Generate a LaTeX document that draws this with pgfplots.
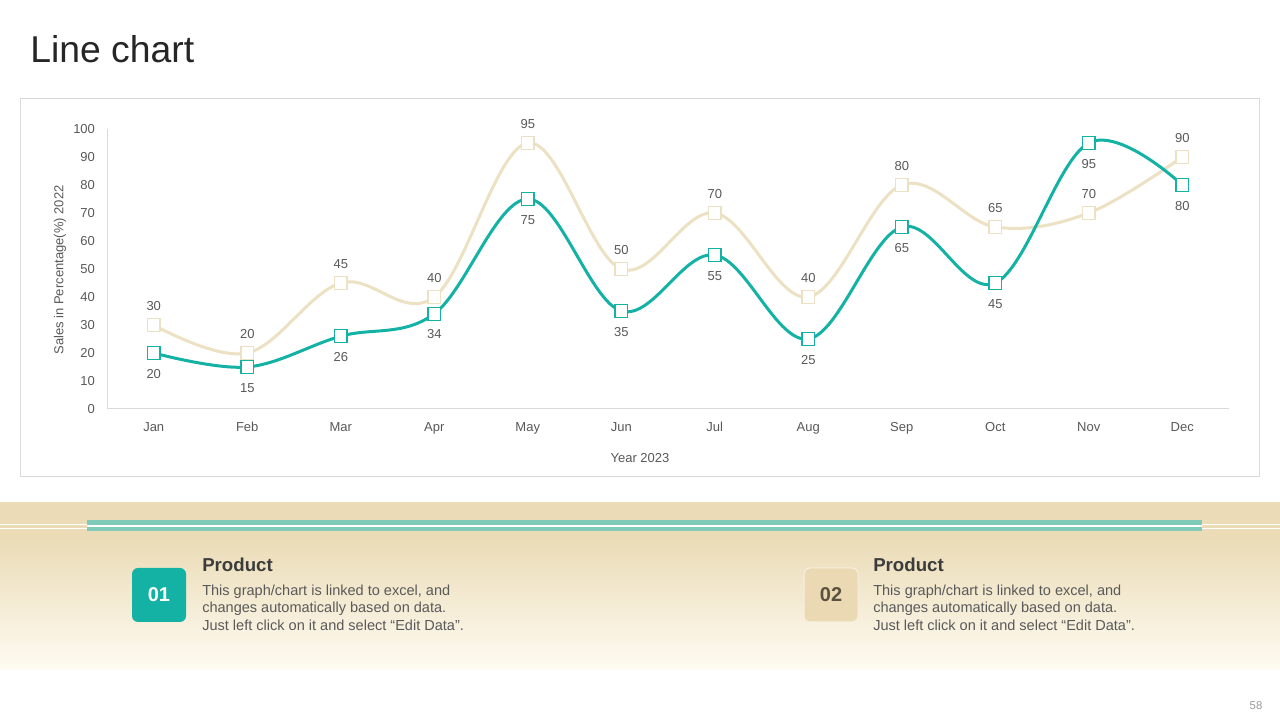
\documentclass[border=0pt]{standalone}
\usepackage{pgfplots}
\pgfplotsset{compat=1.18}
\usepackage{fontspec}
\setmainfont{Liberation Sans}
\definecolor{teal1}{HTML}{14B1A5}
\definecolor{beige1}{HTML}{EDE1C3}
\definecolor{bandtop}{HTML}{EBDCB7}
\definecolor{bandbot}{HTML}{FEFBF2}
\definecolor{stripe}{HTML}{7FCAB8}
\definecolor{txt}{HTML}{595959}
\definecolor{framec}{HTML}{D9D9D9}
\definecolor{box2}{HTML}{EAD9B2}
\definecolor{box2txt}{HTML}{5B5141}
\definecolor{head}{HTML}{3B3B3B}
\begin{document}
\begin{tikzpicture}[x=0.75pt,y=0.75pt]
\fill[white] (0,0) rectangle (1280,720);
\begin{scope}
\clip (0,0) rectangle (1280,720);
% bottom band
\shade[top color=bandtop, bottom color=bandbot] (-5,720-670) rectangle (1285,720-539);
\fill[bandtop] (-5,720-541) rectangle (1285,720-502);
\draw[white, line width=0.9pt] (-5,720-524.3) -- (1285,720-524.3);
\draw[white, line width=0.9pt] (-5,720-528.3) -- (1285,720-528.3);
\end{scope}
\fill[stripe] (87,720-531) rectangle (1202,720-520);
\draw[white, line width=0.9pt] (87,720-526) -- (1202,720-526);
% title
\node[anchor=base west, inner sep=0, text=black!85] at (30,720-63) {\fontsize{28}{32}\selectfont Line chart};
% chart frame
\draw[framec, line width=0.75pt] (20,720-477) rectangle (1259,720-99);
% axis
\begin{axis}[
  at={(80.25pt,233.25pt)}, anchor=south west,
  scale only axis, width=841.5pt, height=210pt,
  xmin=-0.5, xmax=11.5, ymin=0, ymax=100,
  ytick={0,10,...,100},
  xtick={0,...,11},
  xticklabels={Jan,Feb,Mar,Apr,May,Jun,Jul,Aug,Sep,Oct,Nov,Dec},
  axis x line=bottom, axis y line=left,
  axis line style={-, framec, line width=0.75pt},
  major tick length=0pt,
  tick label style={font=\fontsize{9.75}{11}\selectfont, text=txt},
  yticklabel style={xshift=-5.5pt},
  xticklabel style={yshift=-6.5pt},
  /pgf/number format/assume math mode=true,
  clip=false,
]
\addplot[beige1, line width=2.25pt, smooth, tension=0.6,
  mark=square*, mark size=4.8pt,
  mark options={fill=white, draw=beige1, line width=1pt},
  nodes near coords,
  every node near coord/.append style={anchor=center, yshift=14.5pt, font=\fontsize{9.75}{11}\selectfont, text=txt}]
  coordinates {(0,30) (1,20) (2,45) (3,40) (4,95) (5,50) (6,70) (7,40) (8,80) (9,65) (10,70) (11,90)};
\addplot[teal1, line width=2.25pt, smooth, tension=0.6,
  mark=square*, mark size=4.8pt,
  mark options={fill=white, draw=teal1, line width=1pt},
  nodes near coords,
  every node near coord/.append style={anchor=center, yshift=-15.5pt, font=\fontsize{9.75}{11}\selectfont, text=txt}]
  coordinates {(0,20) (1,15) (2,26) (3,34) (4,75) (5,35) (6,55) (7,25) (8,65) (9,45) (10,95) (11,80)};
\end{axis}
% axis titles
\node[text=txt, font=\fontsize{9.75}{11}\selectfont] at (640,720-458) {Year 2023};
\node[text=txt, font=\fontsize{9.75}{11}\selectfont, rotate=90] at (60,720-270) {Sales in Percentage(\%) 2022};
% boxes
\fill[teal1, rounded corners=4.5pt] (132,720-622) rectangle (186,720-568);
\node[text=white, font=\fontsize{15}{18}\selectfont\bfseries] at (159,720-595) {01};
\filldraw[fill=box2, draw=box2!40!white, line width=0.75pt, rounded corners=4.5pt] (804,720-622) rectangle (858,720-568);
\node[text=box2txt, font=\fontsize{15}{18}\selectfont\bfseries] at (831,720-595) {02};
% texts
\foreach \xx in {202,873}{
  \node[anchor=base west, inner sep=0, text=head, font=\fontsize{14}{17}\selectfont\bfseries] at (\xx,720-572) {Product};
  \node[anchor=base west, inner sep=0, text=txt, font=\fontsize{10.9}{13}\selectfont] at (\xx,720-596) {This graph/chart is linked to excel, and};
  \node[anchor=base west, inner sep=0, text=txt, font=\fontsize{10.9}{13}\selectfont] at (\xx,720-613) {changes automatically based on data.};
  \node[anchor=base west, inner sep=0, text=txt, font=\fontsize{10.9}{13}\selectfont] at (\xx,720-630.5) {Just left click on it and select “Edit Data”.};
}
% page number
\node[text=black!40, font=\fontsize{8.5}{10}\selectfont] at (1256,720-706) {58};
\end{tikzpicture}
\end{document}
